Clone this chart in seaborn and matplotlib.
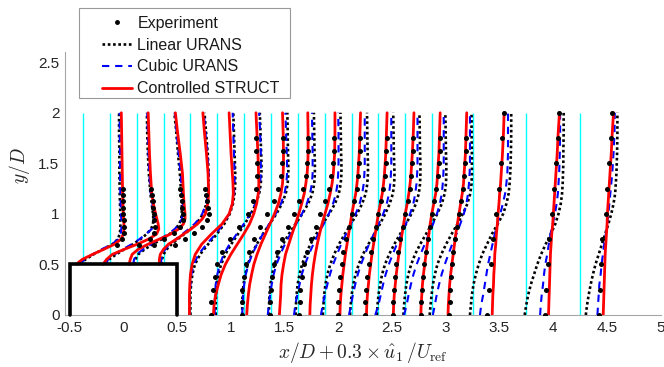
import numpy as np
import pandas as pd
import matplotlib
matplotlib.use("Agg")
import matplotlib.pyplot as plt
from matplotlib.lines import Line2D
from matplotlib.patches import Rectangle
import seaborn as sns

# ---------------- data ----------------
stations = [-0.375, -0.125, 0.125, 0.375, 0.625, 0.875, 1.125, 1.375, 1.625,
            1.875, 2.125, 2.375, 2.625, 2.875, 3.25, 3.75, 4.25]
scale = 0.3
rib_x = [-0.5, -0.5, 0.5, 0.5]
rib_y = [0.0, 0.5, 0.5, 0.0]
y_top = 2.0

# y levels for model profiles above the rib (s1-s4) and downstream (s5-s17)
y_rib = [0.5, 0.52, 0.55, 0.6, 0.65, 0.7, 0.75, 0.8, 0.85, 0.9, 0.95, 1.0, 1.1, 1.2, 1.4, 1.6, 1.8, 2.0]
y_wake = [0, 0.1, 0.2, 0.3, 0.4, 0.5, 0.6, 0.7, 0.8, 0.9, 1.0, 1.1, 1.2, 1.3, 1.4, 1.5, 1.6, 1.8, 2.0]

# Controlled STRUCT (u/Uref)
struct_s1 = [-0.18, -0.14, -0.02, 0.3, 0.65, 0.98, 1.18, 1.25, 1.27, 1.27, 1.26, 1.25, 1.24, 1.23, 1.22, 1.21, 1.2, 1.19]
struct_s2 = [-0.2, -0.17, -0.1, 0.08, 0.45, 0.85, 1.2, 1.45, 1.52, 1.5, 1.46, 1.42, 1.35, 1.3, 1.26, 1.23, 1.21, 1.19]
struct_s3 = [-0.22, -0.22, -0.2, -0.14, 0.05, 0.35, 0.7, 1.05, 1.3, 1.45, 1.5, 1.5, 1.47, 1.45, 1.42, 1.35, 1.27, 1.2]
struct_s4 = [-0.13, -0.13, -0.13, -0.1, 0.0, 0.15, 0.4, 0.62, 0.85, 1.05, 1.2, 1.3, 1.37, 1.4, 1.38, 1.33, 1.27, 1.22]
struct_s5 = [-0.03, -0.03, -0.03, -0.02, 0.0, 0.05, 0.15, 0.35, 0.65, 0.98, 1.2, 1.3, 1.33, 1.32, 1.3, 1.28, 1.26, 1.23, 1.2]
struct_s6 = [-0.12, -0.1, -0.05, 0.03, 0.12, 0.25, 0.42, 0.62, 0.82, 1.0, 1.13, 1.22, 1.27, 1.29, 1.28, 1.27, 1.26, 1.23, 1.2]
struct_s7 = [0.08, 0.1, 0.13, 0.17, 0.23, 0.3, 0.4, 0.52, 0.66, 0.8, 0.94, 1.06, 1.14, 1.19, 1.21, 1.22, 1.22, 1.21, 1.19]
struct_s8 = [0.26, 0.28, 0.3, 0.31, 0.34, 0.39, 0.45, 0.55, 0.65, 0.76, 0.86, 0.95, 1.03, 1.08, 1.12, 1.14, 1.15, 1.15, 1.14]
struct_s9 = [0.37, 0.38, 0.4, 0.42, 0.45, 0.49, 0.54, 0.6, 0.67, 0.75, 0.84, 0.93, 1.0, 1.06, 1.1, 1.12, 1.14, 1.15, 1.15]
struct_s10 = [0.47, 0.48, 0.5, 0.53, 0.56, 0.6, 0.64, 0.69, 0.74, 0.79, 0.84, 0.9, 0.96, 1.0, 1.03, 1.05, 1.07, 1.09, 1.11]
struct_s11 = [0.46, 0.47, 0.49, 0.52, 0.55, 0.59, 0.63, 0.68, 0.73, 0.78, 0.83, 0.89, 0.95, 0.99, 1.02, 1.04, 1.06, 1.08, 1.1]
struct_s12 = [0.46, 0.47, 0.49, 0.52, 0.55, 0.59, 0.63, 0.68, 0.73, 0.78, 0.83, 0.89, 0.94, 0.98, 1.01, 1.03, 1.05, 1.08, 1.1]
struct_s13 = [0.48, 0.49, 0.51, 0.53, 0.56, 0.6, 0.64, 0.68, 0.73, 0.77, 0.82, 0.88, 0.94, 0.98, 1.0, 1.02, 1.04, 1.06, 1.08]
struct_s14 = [0.49, 0.5, 0.52, 0.54, 0.57, 0.61, 0.65, 0.69, 0.73, 0.78, 0.83, 0.88, 0.93, 0.97, 0.99, 1.01, 1.03, 1.05, 1.07]
struct_s15 = [0.61, 0.62, 0.63, 0.65, 0.66, 0.68, 0.69, 0.72, 0.74, 0.77, 0.79, 0.82, 0.84, 0.87, 0.89, 0.91, 0.93, 0.96, 0.98]
struct_s16 = [0.69, 0.7, 0.71, 0.72, 0.73, 0.74, 0.75, 0.77, 0.79, 0.82, 0.84, 0.86, 0.88, 0.9, 0.92, 0.94, 0.96, 0.99, 1.03]
struct_s17 = [0.72, 0.73, 0.74, 0.75, 0.76, 0.77, 0.78, 0.8, 0.82, 0.84, 0.85, 0.87, 0.89, 0.91, 0.93, 0.95, 0.97, 1.0, 1.04]

# Cubic URANS
cubic_s1 = [-0.1, -0.05, 0.05, 0.3, 0.58, 0.9, 1.1, 1.17, 1.19, 1.19, 1.19, 1.18, 1.17, 1.16, 1.15, 1.15, 1.14, 1.14]
cubic_s2 = [-0.12, -0.1, -0.05, 0.15, 0.4, 0.68, 0.92, 1.12, 1.3, 1.38, 1.4, 1.38, 1.32, 1.27, 1.22, 1.2, 1.18, 1.16]
cubic_s3 = [-0.1, -0.1, -0.08, 0.0, 0.2, 0.45, 0.72, 0.98, 1.18, 1.32, 1.4, 1.43, 1.43, 1.41, 1.36, 1.3, 1.24, 1.18]
cubic_s4 = [-0.08, -0.08, -0.07, -0.03, 0.05, 0.2, 0.38, 0.58, 0.78, 0.96, 1.1, 1.2, 1.32, 1.38, 1.4, 1.36, 1.3, 1.25]
cubic_s5 = [-0.03, -0.03, -0.02, 0.0, 0.03, 0.1, 0.25, 0.5, 0.78, 1.02, 1.2, 1.3, 1.35, 1.37, 1.37, 1.36, 1.35, 1.33, 1.31]
cubic_s6 = [-0.08, -0.08, -0.07, -0.05, 0.0, 0.08, 0.2, 0.38, 0.6, 0.82, 1.02, 1.18, 1.28, 1.33, 1.35, 1.35, 1.35, 1.33, 1.3]
cubic_s7 = [-0.06, -0.05, -0.03, 0.0, 0.05, 0.13, 0.25, 0.4, 0.58, 0.78, 0.98, 1.14, 1.25, 1.31, 1.33, 1.33, 1.32, 1.3, 1.28]
cubic_s8 = [-0.1, -0.07, -0.03, 0.02, 0.08, 0.17, 0.29, 0.43, 0.6, 0.78, 0.96, 1.11, 1.21, 1.27, 1.29, 1.29, 1.29, 1.28, 1.27]
cubic_s9 = [-0.12, -0.08, -0.02, 0.05, 0.12, 0.22, 0.34, 0.48, 0.63, 0.8, 0.96, 1.09, 1.18, 1.23, 1.25, 1.26, 1.26, 1.26, 1.25]
cubic_s10 = [-0.12, -0.06, 0.0, 0.08, 0.16, 0.26, 0.38, 0.51, 0.66, 0.81, 0.96, 1.08, 1.16, 1.21, 1.23, 1.24, 1.24, 1.24, 1.24]
cubic_s11 = [-0.08, -0.02, 0.04, 0.11, 0.19, 0.29, 0.41, 0.54, 0.69, 0.84, 0.98, 1.09, 1.16, 1.2, 1.22, 1.23, 1.23, 1.23, 1.23]
cubic_s12 = [-0.1, 0.0, 0.07, 0.14, 0.22, 0.32, 0.44, 0.57, 0.71, 0.85, 0.98, 1.08, 1.14, 1.18, 1.2, 1.21, 1.21, 1.21, 1.21]
cubic_s13 = [-0.04, 0.04, 0.1, 0.17, 0.25, 0.35, 0.47, 0.6, 0.73, 0.86, 0.98, 1.07, 1.13, 1.16, 1.18, 1.19, 1.19, 1.19, 1.19]
cubic_s14 = [0.02, 0.08, 0.14, 0.21, 0.29, 0.39, 0.5, 0.62, 0.75, 0.87, 0.98, 1.06, 1.11, 1.14, 1.16, 1.17, 1.17, 1.17, 1.17]
cubic_s15 = [0.23, 0.27, 0.33, 0.38, 0.43, 0.48, 0.55, 0.62, 0.69, 0.77, 0.86, 0.94, 1.01, 1.05, 1.08, 1.09, 1.1, 1.1, 1.1]
cubic_s16 = [0.43, 0.45, 0.48, 0.52, 0.55, 0.59, 0.65, 0.7, 0.75, 0.82, 0.89, 0.94, 0.98, 1.0, 1.02, 1.03, 1.04, 1.05, 1.05]
cubic_s17 = [0.54, 0.56, 0.58, 0.6, 0.64, 0.67, 0.71, 0.75, 0.8, 0.84, 0.88, 0.91, 0.94, 0.97, 1.0, 1.02, 1.04, 1.07, 1.08]

# Linear URANS
linear_s1 = [-0.08, -0.03, 0.08, 0.33, 0.62, 0.92, 1.08, 1.14, 1.16, 1.16, 1.16, 1.16, 1.15, 1.14, 1.13, 1.13, 1.12, 1.12]
linear_s2 = [-0.1, -0.08, -0.02, 0.2, 0.45, 0.72, 0.95, 1.14, 1.28, 1.34, 1.35, 1.34, 1.3, 1.26, 1.21, 1.18, 1.16, 1.15]
linear_s3 = [-0.08, -0.07, -0.04, 0.05, 0.25, 0.5, 0.78, 1.02, 1.2, 1.32, 1.38, 1.4, 1.4, 1.38, 1.34, 1.28, 1.23, 1.17]
linear_s4 = [-0.06, -0.06, -0.05, 0.0, 0.1, 0.25, 0.44, 0.64, 0.84, 1.0, 1.13, 1.22, 1.33, 1.38, 1.4, 1.37, 1.32, 1.27]
linear_s5 = [0.0, 0.0, 0.0, 0.02, 0.06, 0.14, 0.3, 0.55, 0.82, 1.05, 1.22, 1.32, 1.37, 1.39, 1.39, 1.38, 1.37, 1.35, 1.33]
linear_s6 = [-0.05, -0.05, -0.04, -0.02, 0.03, 0.12, 0.25, 0.43, 0.64, 0.85, 1.04, 1.2, 1.3, 1.35, 1.37, 1.37, 1.36, 1.34, 1.32]
linear_s7 = [-0.06, -0.06, -0.05, -0.02, 0.03, 0.11, 0.23, 0.39, 0.58, 0.79, 1.0, 1.17, 1.29, 1.35, 1.37, 1.37, 1.36, 1.35, 1.34]
linear_s8 = [-0.07, -0.06, -0.05, -0.02, 0.03, 0.11, 0.22, 0.37, 0.55, 0.76, 0.97, 1.15, 1.28, 1.34, 1.36, 1.36, 1.35, 1.34, 1.33]
linear_s9 = [-0.07, -0.06, -0.04, -0.01, 0.05, 0.13, 0.24, 0.39, 0.57, 0.77, 0.97, 1.15, 1.27, 1.33, 1.35, 1.35, 1.34, 1.33, 1.32]
linear_s10 = [-0.06, -0.04, -0.02, 0.02, 0.08, 0.17, 0.29, 0.44, 0.62, 0.81, 1.0, 1.16, 1.27, 1.32, 1.34, 1.34, 1.33, 1.32, 1.31]
linear_s11 = [-0.05, -0.03, 0.0, 0.05, 0.12, 0.22, 0.35, 0.52, 0.7, 0.88, 1.04, 1.18, 1.28, 1.32, 1.33, 1.32, 1.31, 1.3, 1.29]
linear_s12 = [-0.05, -0.03, 0.0, 0.05, 0.11, 0.2, 0.33, 0.49, 0.67, 0.85, 1.02, 1.16, 1.25, 1.29, 1.3, 1.3, 1.29, 1.28, 1.27]
linear_s13 = [-0.06, -0.04, -0.01, 0.03, 0.09, 0.18, 0.3, 0.46, 0.64, 0.82, 0.99, 1.13, 1.22, 1.26, 1.27, 1.27, 1.26, 1.25, 1.24]
linear_s14 = [-0.08, -0.05, -0.02, 0.02, 0.08, 0.16, 0.28, 0.43, 0.6, 0.78, 0.95, 1.09, 1.18, 1.22, 1.23, 1.23, 1.23, 1.22, 1.22]
linear_s15 = [-0.08, -0.05, -0.02, 0.03, 0.1, 0.19, 0.3, 0.45, 0.6, 0.78, 0.95, 1.05, 1.12, 1.15, 1.17, 1.18, 1.19, 1.2, 1.2]
linear_s16 = [-0.05, 0.0, 0.06, 0.14, 0.24, 0.34, 0.46, 0.6, 0.76, 0.9, 1.0, 1.07, 1.11, 1.13, 1.14, 1.15, 1.15, 1.16, 1.16]
linear_s17 = [0.18, 0.22, 0.27, 0.33, 0.4, 0.48, 0.58, 0.68, 0.78, 0.88, 0.97, 1.04, 1.09, 1.11, 1.13, 1.14, 1.15, 1.16, 1.16]

# Experiment
y_exp_rib = [0.6875, 0.75, 0.8125, 0.875, 0.9375, 1.0, 1.0625, 1.125, 1.1875, 1.25]
y_exp_wake = [0, 0.125, 0.25, 0.375, 0.5, 0.625, 0.75, 0.875, 1.0, 1.125, 1.25, 1.375, 1.5, 1.625, 1.75]
y_exp_far = [0, 0.25, 0.5, 0.75, 1.0, 1.25, 1.5, 1.75, 2.0]
exp_s1 = [1.05, 1.22, 1.27, 1.27, 1.26, 1.25, 1.25, 1.24, 1.24, 1.23]
exp_s2 = [0.9, 1.25, 1.38, 1.4, 1.38, 1.36, 1.35, 1.33, 1.3, 1.28]
exp_s3 = [0.55, 0.85, 1.15, 1.35, 1.43, 1.44, 1.42, 1.4, 1.37, 1.34]
exp_s4 = [0.35, 0.65, 0.95, 1.2, 1.35, 1.4, 1.38, 1.35, 1.32, 1.3]
exp_s6 = [-0.18, -0.18, -0.14, -0.08, 0.0, 0.15, 0.38, 0.68, 0.95, 1.12, 1.2, 1.22, 1.22, 1.21, 1.2]
exp_s7 = [-0.08, -0.08, -0.06, -0.02, 0.05, 0.15, 0.3, 0.5, 0.72, 0.92, 1.06, 1.14, 1.18, 1.19, 1.19]
exp_s8 = [-0.04, -0.03, 0.0, 0.04, 0.1, 0.2, 0.35, 0.52, 0.7, 0.87, 1.0, 1.08, 1.12, 1.14, 1.15]
exp_s9 = [0.04, 0.05, 0.08, 0.12, 0.19, 0.29, 0.41, 0.55, 0.7, 0.84, 0.96, 1.04, 1.09, 1.12, 1.13]
exp_s10 = [0.4, 0.41, 0.43, 0.47, 0.52, 0.58, 0.65, 0.74, 0.83, 0.92, 0.99, 1.04, 1.07, 1.09, 1.1]
exp_s11 = [0.42, 0.43, 0.45, 0.49, 0.54, 0.6, 0.67, 0.75, 0.83, 0.91, 0.98, 1.03, 1.06, 1.08, 1.09]
exp_s12 = [0.45, 0.46, 0.48, 0.51, 0.55, 0.61, 0.67, 0.75, 0.83, 0.9, 0.97, 1.02, 1.05, 1.07, 1.08]
exp_s13 = [0.48, 0.49, 0.51, 0.54, 0.58, 0.63, 0.69, 0.76, 0.83, 0.9, 0.96, 1.01, 1.04, 1.06, 1.07]
exp_s14 = [0.53, 0.54, 0.56, 0.58, 0.61, 0.65, 0.71, 0.77, 0.83, 0.9, 0.96, 1.0, 1.03, 1.05, 1.06]
exp_s15 = [0.46, 0.51, 0.57, 0.64, 0.74, 0.81, 0.87, 0.9, 0.98]
exp_s16 = [0.59, 0.62, 0.66, 0.69, 0.8, 0.87, 0.93, 0.98, 1.03]
exp_s17 = [0.59, 0.62, 0.66, 0.69, 0.8, 0.85, 0.9, 0.95, 1.0]

xticks = [-0.5, 0, 0.5, 1, 1.5, 2, 2.5, 3, 3.5, 4, 4.5, 5]
xtick_labels = ["-0.5", "0", "0.5", "1", "1.5", "2", "2.5", "3", "3.5", "4", "4.5", "5"]
yticks = [0, 0.5, 1, 1.5, 2, 2.5]
ytick_labels = ["0", "0.5", "1", "1.5", "2", "2.5"]
legend_labels = ["Experiment", "Linear URANS", "Cubic URANS", "Controlled STRUCT"]

g = globals()
struct_all = [g[f"struct_s{i}"] for i in range(1, 18)]
cubic_all = [g[f"cubic_s{i}"] for i in range(1, 18)]
linear_all = [g[f"linear_s{i}"] for i in range(1, 18)]
exp_map = {i: g[f"exp_s{i}"] for i in [1, 2, 3, 4, 6, 7, 8, 9, 10, 11, 12, 13, 14, 15, 16, 17]}


def model_frame(profiles):
    rows = []
    for k, (s, u) in enumerate(zip(stations, profiles)):
        ys = y_rib if k < 4 else y_wake
        for yy, uu in zip(ys, u):
            rows.append((k, yy, s + scale * uu))
    return pd.DataFrame(rows, columns=["sid", "y", "xp"])


def exp_frame():
    rows = []
    for i, u in exp_map.items():
        s = stations[i - 1]
        ys = y_exp_rib if i <= 4 else (y_exp_wake if i <= 14 else y_exp_far)
        for yy, uu in zip(ys, u):
            rows.append((i, yy, s + scale * uu))
    return pd.DataFrame(rows, columns=["sid", "y", "xp"])


# ---------------- figure ----------------
sns.set_theme(style="white")
plt.rcParams["font.family"] = ["Liberation Sans", "DejaVu Sans"]
plt.rcParams["mathtext.fontset"] = "cm"

W, H = 664, 367
fig = plt.figure(figsize=(W / 100, H / 100), dpi=100)
ax = fig.add_axes([65 / W, 1 - 315 / H, 595.6 / W, 262.9 / H])

# station reference lines
cyan_bottom = [0.5 if (rib_x[0] < s < rib_x[-1]) else 0.0 for s in stations]
ax.vlines(stations, cyan_bottom, y_top, colors="#00FFFF", lw=1.0, zorder=1)

LIN_STYLE = dict(color="black", lw=1.9, linestyle=(0, (1, 1)))
CUB_STYLE = dict(color="#0000FF", lw=1.5, linestyle=(0, (3.5, 2.8)))
STR_STYLE = dict(color="#FF0000", lw=2.0, linestyle="-")

common = dict(x="xp", y="y", units="sid", estimator=None, sort=False, ax=ax, legend=False)
sns.lineplot(data=model_frame(linear_all), zorder=3, **LIN_STYLE, **common)
sns.lineplot(data=model_frame(cubic_all), zorder=4, **CUB_STYLE, **common)
sns.lineplot(data=model_frame(struct_all), zorder=5, **STR_STYLE, **common)
sns.scatterplot(data=exp_frame(), x="xp", y="y", color="black", s=13, linewidth=0,
                zorder=6, ax=ax, legend=False)

# rib
ax.plot(rib_x, rib_y, color="black", lw=2.6, solid_joinstyle="miter", zorder=7, clip_on=False)

ax.set_xlim(-0.542, 5.0)
ax.set_ylim(0, 2.6)
ax.set_xticks(xticks)
ax.set_xticklabels(xtick_labels)
ax.set_yticks(yticks)
ax.set_yticklabels(ytick_labels)
for side in ["top", "right"]:
    ax.spines[side].set_visible(False)
for side in ["left", "bottom"]:
    ax.spines[side].set_color("#a6a6a6")
    ax.spines[side].set_linewidth(0.8)
ax.tick_params(direction="in", length=4, width=0.8, color="#a6a6a6",
               labelsize=11, labelcolor="#262626", pad=4)
ax.set_xlabel(r"$x/D + 0.3 \times \hat{u}_1\,/U_{\rm ref}$", fontsize=14, labelpad=4, color="#262626")
ax.set_ylabel(r"$y/D$", fontsize=14, color="#262626")
ax.yaxis.set_label_coords(-0.055, 0.57)

# legend: frame drawn separately so the inner padding matches the reference
frame = Rectangle((79 / W, 1 - 98 / H), 211 / W, 90 / H, transform=fig.transFigure,
                  facecolor="white", edgecolor="#999999", lw=0.8, clip_on=False, zorder=15)
ax.add_patch(frame)
handles = [
    Line2D([], [], marker="o", ms=2.5, color="black", ls="none"),
    Line2D([], [], **LIN_STYLE),
    Line2D([], [], **CUB_STYLE),
    Line2D([], [], **STR_STYLE),
]
leg = ax.legend(handles, legend_labels, loc="upper left",
                bbox_to_anchor=(102 / W, 1 - 16 / H), bbox_transform=fig.transFigure,
                frameon=False, fontsize=11.5, handlelength=1.9, handletextpad=0.32,
                labelspacing=0.42, borderpad=0, borderaxespad=0)
leg.set_zorder(20)
for t in leg.get_texts():
    t.set_color("#1a1a1a")

fig.savefig("out.png", dpi=100)
